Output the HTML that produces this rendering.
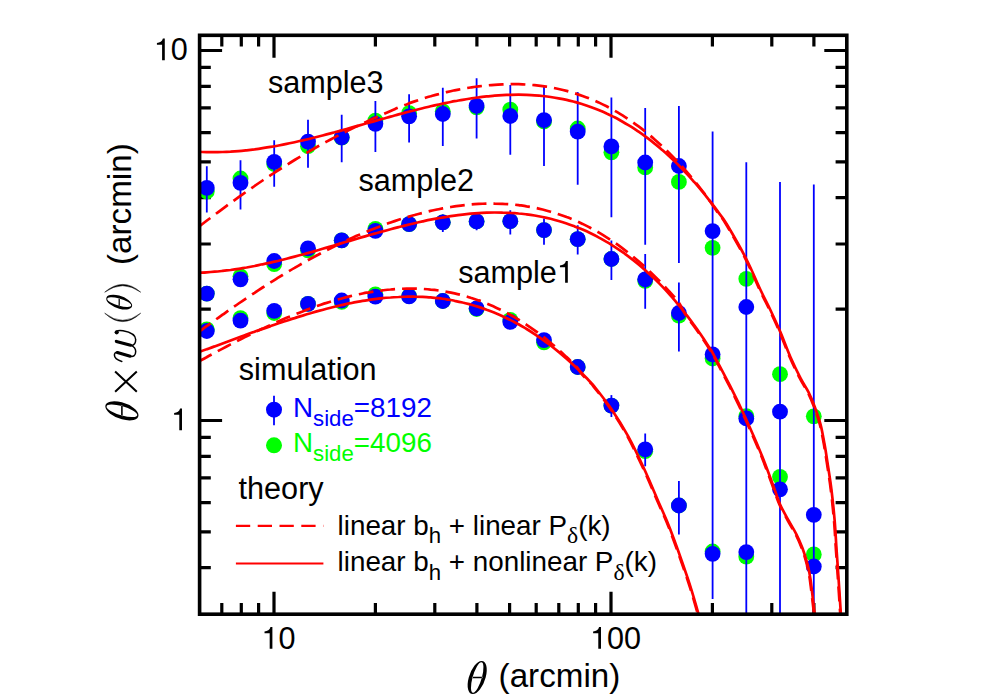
<!DOCTYPE html><html><head><meta charset="utf-8"><style>html,body{margin:0;padding:0;background:#fff}svg{display:block}</style></head><body><svg width="997" height="698" viewBox="0 0 997 698">
<rect width="997" height="698" fill="#fff"/>
<defs><clipPath id="cp"><rect x="199.6" y="35.3" width="647.2" height="578.9"/></clipPath></defs>
<path d="M221.8 35.3v11.2M221.8 614.2v-11.2M241.3 35.3v11.2M241.3 614.2v-11.2M258.6 35.3v11.2M258.6 614.2v-11.2M375.4 35.3v11.2M375.4 614.2v-11.2M434.8 35.3v11.2M434.8 614.2v-11.2M476.9 35.3v11.2M476.9 614.2v-11.2M509.6 35.3v11.2M509.6 614.2v-11.2M536.2 35.3v11.2M536.2 614.2v-11.2M558.8 35.3v11.2M558.8 614.2v-11.2M578.3 35.3v11.2M578.3 614.2v-11.2M595.6 35.3v11.2M595.6 614.2v-11.2M712.4 35.3v11.2M712.4 614.2v-11.2M771.8 35.3v11.2M771.8 614.2v-11.2M813.9 35.3v11.2M813.9 614.2v-11.2M274.0 35.3v22.5M274.0 614.2v-22.5M611.0 35.3v22.5M611.0 614.2v-22.5M199.6 567.7h11.2M846.8 567.7h-11.2M199.6 531.9h11.2M846.8 531.9h-11.2M199.6 502.6h11.2M846.8 502.6h-11.2M199.6 477.8h11.2M846.8 477.8h-11.2M199.6 456.4h11.2M846.8 456.4h-11.2M199.6 437.4h11.2M846.8 437.4h-11.2M199.6 309.1h11.2M846.8 309.1h-11.2M199.6 244.0h11.2M846.8 244.0h-11.2M199.6 197.7h11.2M846.8 197.7h-11.2M199.6 161.9h11.2M846.8 161.9h-11.2M199.6 132.6h11.2M846.8 132.6h-11.2M199.6 107.8h11.2M846.8 107.8h-11.2M199.6 86.4h11.2M846.8 86.4h-11.2M199.6 67.4h11.2M846.8 67.4h-11.2M199.6 420.5h22.5M846.8 420.5h-22.5M199.6 50.5h22.5M846.8 50.5h-22.5" stroke="#000" stroke-width="3.2" fill="none"/>
<g clip-path="url(#cp)">
<circle cx="206.8" cy="329.3" r="7.9" fill="#00ff00"/>
<circle cx="240.5" cy="318.1" r="7.9" fill="#00ff00"/>
<circle cx="274.2" cy="313.0" r="7.9" fill="#00ff00"/>
<circle cx="308.0" cy="303.9" r="7.9" fill="#00ff00"/>
<circle cx="341.7" cy="301.9" r="7.9" fill="#00ff00"/>
<circle cx="375.4" cy="294.4" r="7.9" fill="#00ff00"/>
<circle cx="409.1" cy="296.0" r="7.9" fill="#00ff00"/>
<circle cx="442.8" cy="301.0" r="7.9" fill="#00ff00"/>
<circle cx="476.6" cy="309.0" r="7.9" fill="#00ff00"/>
<circle cx="510.3" cy="319.8" r="7.9" fill="#00ff00"/>
<circle cx="544.0" cy="342.3" r="7.9" fill="#00ff00"/>
<circle cx="577.7" cy="367.0" r="7.9" fill="#00ff00"/>
<circle cx="611.4" cy="405.6" r="7.9" fill="#00ff00"/>
<circle cx="645.2" cy="451.2" r="7.9" fill="#00ff00"/>
<circle cx="678.9" cy="505.5" r="7.9" fill="#00ff00"/>
<circle cx="712.6" cy="551.5" r="7.9" fill="#00ff00"/>
<circle cx="746.3" cy="556.7" r="7.9" fill="#00ff00"/>
<circle cx="206.8" cy="293.6" r="7.9" fill="#00ff00"/>
<circle cx="240.5" cy="276.3" r="7.9" fill="#00ff00"/>
<circle cx="274.2" cy="264.2" r="7.9" fill="#00ff00"/>
<circle cx="308.0" cy="250.3" r="7.9" fill="#00ff00"/>
<circle cx="341.7" cy="240.3" r="7.9" fill="#00ff00"/>
<circle cx="375.4" cy="228.8" r="7.9" fill="#00ff00"/>
<circle cx="409.1" cy="224.2" r="7.9" fill="#00ff00"/>
<circle cx="442.8" cy="222.3" r="7.9" fill="#00ff00"/>
<circle cx="476.6" cy="221.4" r="7.9" fill="#00ff00"/>
<circle cx="510.3" cy="221.2" r="7.9" fill="#00ff00"/>
<circle cx="544.0" cy="230.1" r="7.9" fill="#00ff00"/>
<circle cx="577.7" cy="239.2" r="7.9" fill="#00ff00"/>
<circle cx="611.4" cy="259.0" r="7.9" fill="#00ff00"/>
<circle cx="645.2" cy="280.8" r="7.9" fill="#00ff00"/>
<circle cx="678.9" cy="315.6" r="7.9" fill="#00ff00"/>
<circle cx="712.6" cy="358.5" r="7.9" fill="#00ff00"/>
<circle cx="746.3" cy="416.2" r="7.9" fill="#00ff00"/>
<circle cx="780.0" cy="476.8" r="7.9" fill="#00ff00"/>
<circle cx="813.8" cy="554.4" r="7.9" fill="#00ff00"/>
<circle cx="206.8" cy="191.5" r="7.9" fill="#00ff00"/>
<circle cx="240.5" cy="178.5" r="7.9" fill="#00ff00"/>
<circle cx="274.2" cy="164.0" r="7.9" fill="#00ff00"/>
<circle cx="308.0" cy="146.2" r="7.9" fill="#00ff00"/>
<circle cx="341.7" cy="137.7" r="7.9" fill="#00ff00"/>
<circle cx="375.4" cy="120.7" r="7.9" fill="#00ff00"/>
<circle cx="409.1" cy="113.2" r="7.9" fill="#00ff00"/>
<circle cx="442.8" cy="111.3" r="7.9" fill="#00ff00"/>
<circle cx="476.6" cy="107.3" r="7.9" fill="#00ff00"/>
<circle cx="510.3" cy="109.7" r="7.9" fill="#00ff00"/>
<circle cx="544.0" cy="121.5" r="7.9" fill="#00ff00"/>
<circle cx="577.7" cy="128.5" r="7.9" fill="#00ff00"/>
<circle cx="611.4" cy="152.3" r="7.9" fill="#00ff00"/>
<circle cx="645.2" cy="167.4" r="7.9" fill="#00ff00"/>
<circle cx="678.9" cy="181.9" r="7.9" fill="#00ff00"/>
<circle cx="712.6" cy="247.8" r="7.9" fill="#00ff00"/>
<circle cx="746.3" cy="278.8" r="7.9" fill="#00ff00"/>
<circle cx="780.0" cy="374.2" r="7.9" fill="#00ff00"/>
<circle cx="813.8" cy="416.3" r="7.9" fill="#00ff00"/>
<circle cx="206.8" cy="331.0" r="7.9" fill="#0000ff"/>
<circle cx="240.5" cy="320.6" r="7.9" fill="#0000ff"/>
<circle cx="274.2" cy="310.8" r="7.9" fill="#0000ff"/>
<circle cx="308.0" cy="303.9" r="7.9" fill="#0000ff"/>
<circle cx="341.7" cy="300.5" r="7.9" fill="#0000ff"/>
<circle cx="375.4" cy="296.6" r="7.9" fill="#0000ff"/>
<circle cx="409.1" cy="296.4" r="7.9" fill="#0000ff"/>
<circle cx="442.8" cy="301.0" r="7.9" fill="#0000ff"/>
<circle cx="476.6" cy="308.3" r="7.9" fill="#0000ff"/>
<circle cx="510.3" cy="321.8" r="7.9" fill="#0000ff"/>
<circle cx="544.0" cy="340.1" r="7.9" fill="#0000ff"/>
<circle cx="577.7" cy="367.0" r="7.9" fill="#0000ff"/>
<line x1="611.4" y1="395.1" x2="611.4" y2="417.0" stroke="#0000ff" stroke-width="1.8"/>
<circle cx="611.4" cy="405.6" r="7.9" fill="#0000ff"/>
<line x1="645.2" y1="433.5" x2="645.2" y2="466.3" stroke="#0000ff" stroke-width="1.8"/>
<circle cx="645.2" cy="449.3" r="7.9" fill="#0000ff"/>
<line x1="678.9" y1="481.1" x2="678.9" y2="534.5" stroke="#0000ff" stroke-width="1.8"/>
<circle cx="678.9" cy="505.5" r="7.9" fill="#0000ff"/>
<circle cx="712.6" cy="553.8" r="7.9" fill="#0000ff"/>
<circle cx="746.3" cy="552.1" r="7.9" fill="#0000ff"/>
<circle cx="206.8" cy="293.6" r="7.9" fill="#0000ff"/>
<circle cx="240.5" cy="279.3" r="7.9" fill="#0000ff"/>
<circle cx="274.2" cy="261.0" r="7.9" fill="#0000ff"/>
<circle cx="308.0" cy="248.3" r="7.9" fill="#0000ff"/>
<circle cx="341.7" cy="240.3" r="7.9" fill="#0000ff"/>
<circle cx="375.4" cy="230.8" r="7.9" fill="#0000ff"/>
<circle cx="409.1" cy="224.2" r="7.9" fill="#0000ff"/>
<line x1="442.8" y1="214.5" x2="442.8" y2="232.0" stroke="#0000ff" stroke-width="1.8"/>
<circle cx="442.8" cy="222.3" r="7.9" fill="#0000ff"/>
<line x1="476.6" y1="213.6" x2="476.6" y2="230.3" stroke="#0000ff" stroke-width="1.8"/>
<circle cx="476.6" cy="221.4" r="7.9" fill="#0000ff"/>
<line x1="510.3" y1="210.3" x2="510.3" y2="234.5" stroke="#0000ff" stroke-width="1.8"/>
<circle cx="510.3" cy="221.2" r="7.9" fill="#0000ff"/>
<line x1="544.0" y1="218.6" x2="544.0" y2="244.8" stroke="#0000ff" stroke-width="1.8"/>
<circle cx="544.0" cy="230.1" r="7.9" fill="#0000ff"/>
<line x1="577.7" y1="225.3" x2="577.7" y2="254.6" stroke="#0000ff" stroke-width="1.8"/>
<circle cx="577.7" cy="239.2" r="7.9" fill="#0000ff"/>
<line x1="611.4" y1="240.6" x2="611.4" y2="280.0" stroke="#0000ff" stroke-width="1.8"/>
<circle cx="611.4" cy="259.0" r="7.9" fill="#0000ff"/>
<line x1="645.2" y1="254.0" x2="645.2" y2="308.8" stroke="#0000ff" stroke-width="1.8"/>
<circle cx="645.2" cy="279.3" r="7.9" fill="#0000ff"/>
<line x1="678.9" y1="282.4" x2="678.9" y2="351.5" stroke="#0000ff" stroke-width="1.8"/>
<circle cx="678.9" cy="313.0" r="7.9" fill="#0000ff"/>
<circle cx="712.6" cy="354.4" r="7.9" fill="#0000ff"/>
<circle cx="746.3" cy="418.4" r="7.9" fill="#0000ff"/>
<circle cx="780.0" cy="489.3" r="7.9" fill="#0000ff"/>
<circle cx="813.8" cy="566.5" r="7.9" fill="#0000ff"/>
<line x1="206.8" y1="166.3" x2="206.8" y2="212.4" stroke="#0000ff" stroke-width="1.8"/>
<circle cx="206.8" cy="187.9" r="7.9" fill="#0000ff"/>
<line x1="240.5" y1="160.2" x2="240.5" y2="209.5" stroke="#0000ff" stroke-width="1.8"/>
<circle cx="240.5" cy="182.8" r="7.9" fill="#0000ff"/>
<line x1="274.2" y1="140.2" x2="274.2" y2="186.7" stroke="#0000ff" stroke-width="1.8"/>
<circle cx="274.2" cy="161.8" r="7.9" fill="#0000ff"/>
<line x1="308.0" y1="119.7" x2="308.0" y2="167.7" stroke="#0000ff" stroke-width="1.8"/>
<circle cx="308.0" cy="141.6" r="7.9" fill="#0000ff"/>
<line x1="341.7" y1="114.7" x2="341.7" y2="162.3" stroke="#0000ff" stroke-width="1.8"/>
<circle cx="341.7" cy="137.3" r="7.9" fill="#0000ff"/>
<line x1="375.4" y1="100.9" x2="375.4" y2="152.0" stroke="#0000ff" stroke-width="1.8"/>
<circle cx="375.4" cy="123.8" r="7.9" fill="#0000ff"/>
<line x1="409.1" y1="94.2" x2="409.1" y2="142.6" stroke="#0000ff" stroke-width="1.8"/>
<circle cx="409.1" cy="116.3" r="7.9" fill="#0000ff"/>
<line x1="442.8" y1="87.7" x2="442.8" y2="146.0" stroke="#0000ff" stroke-width="1.8"/>
<circle cx="442.8" cy="114.0" r="7.9" fill="#0000ff"/>
<line x1="476.6" y1="78.3" x2="476.6" y2="138.5" stroke="#0000ff" stroke-width="1.8"/>
<circle cx="476.6" cy="105.8" r="7.9" fill="#0000ff"/>
<line x1="510.3" y1="85.1" x2="510.3" y2="154.7" stroke="#0000ff" stroke-width="1.8"/>
<circle cx="510.3" cy="116.0" r="7.9" fill="#0000ff"/>
<line x1="544.0" y1="84.9" x2="544.0" y2="166.0" stroke="#0000ff" stroke-width="1.8"/>
<circle cx="544.0" cy="120.2" r="7.9" fill="#0000ff"/>
<line x1="577.7" y1="92.1" x2="577.7" y2="184.7" stroke="#0000ff" stroke-width="1.8"/>
<circle cx="577.7" cy="131.7" r="7.9" fill="#0000ff"/>
<line x1="611.4" y1="97.6" x2="611.4" y2="217.2" stroke="#0000ff" stroke-width="1.8"/>
<circle cx="611.4" cy="146.4" r="7.9" fill="#0000ff"/>
<line x1="645.2" y1="108.1" x2="645.2" y2="244.7" stroke="#0000ff" stroke-width="1.8"/>
<circle cx="645.2" cy="162.5" r="7.9" fill="#0000ff"/>
<line x1="678.9" y1="106.0" x2="678.9" y2="263.0" stroke="#0000ff" stroke-width="1.8"/>
<circle cx="678.9" cy="166.0" r="7.9" fill="#0000ff"/>
<line x1="712.6" y1="131.6" x2="712.6" y2="599.0" stroke="#0000ff" stroke-width="1.8"/>
<circle cx="712.6" cy="231.1" r="7.9" fill="#0000ff"/>
<line x1="746.3" y1="162.2" x2="746.3" y2="614.2" stroke="#0000ff" stroke-width="1.8"/>
<circle cx="746.3" cy="307.0" r="7.9" fill="#0000ff"/>
<line x1="780.0" y1="182.1" x2="780.0" y2="614.2" stroke="#0000ff" stroke-width="1.8"/>
<circle cx="780.0" cy="411.7" r="7.9" fill="#0000ff"/>
<line x1="813.8" y1="184.4" x2="813.8" y2="614.2" stroke="#0000ff" stroke-width="1.8"/>
<circle cx="813.8" cy="514.8" r="7.9" fill="#0000ff"/>
<path d="M198.6 361.5C199.9 360.8 203.9 358.6 206.6 357.2C209.3 355.7 211.9 354.3 214.6 352.9C217.3 351.4 219.9 350.0 222.6 348.6C225.3 347.2 227.9 345.8 230.6 344.4C233.3 343.1 235.9 341.7 238.6 340.3C241.3 339.0 243.9 337.6 246.6 336.3C249.3 335.0 251.9 333.7 254.6 332.4C257.3 331.1 259.9 329.8 262.6 328.6C265.3 327.3 267.9 326.1 270.6 324.9C273.3 323.7 275.9 322.5 278.6 321.3C281.3 320.1 283.9 319.0 286.6 317.8C289.3 316.7 291.9 315.6 294.6 314.5C297.3 313.4 299.9 312.4 302.6 311.4C305.3 310.3 307.9 309.3 310.6 308.4C313.3 307.4 315.9 306.4 318.6 305.5C321.3 304.6 323.9 303.7 326.6 302.9C329.3 302.0 331.9 301.2 334.6 300.4C337.3 299.7 339.9 298.9 342.6 298.2C345.3 297.5 347.9 296.8 350.6 296.1C353.3 295.5 355.9 294.9 358.6 294.3C361.3 293.8 363.9 293.2 366.6 292.7C369.3 292.3 371.9 291.8 374.6 291.4C377.3 291.0 379.9 290.6 382.6 290.3C385.3 290.0 387.9 289.7 390.6 289.5C393.3 289.2 395.9 289.1 398.6 288.9C401.3 288.8 403.9 288.7 406.6 288.6C409.3 288.6 411.9 288.6 414.6 288.6C417.3 288.7 419.9 288.8 422.6 288.9C425.3 289.1 427.9 289.3 430.6 289.6C433.3 289.8 435.9 290.1 438.6 290.5C441.3 290.9 443.9 291.3 446.6 291.8C449.3 292.3 451.9 292.8 454.6 293.4C457.3 294.0 459.9 294.6 462.6 295.3C465.3 296.1 467.9 296.8 470.6 297.7C473.3 298.5 475.9 299.4 478.6 300.4C481.3 301.3 483.9 302.3 486.6 303.4C489.3 304.5 491.9 305.7 494.6 306.9C497.3 308.1 499.9 309.4 502.6 310.7C505.3 312.1 507.9 313.5 510.6 315.0C513.3 316.5 515.9 318.0 518.6 319.7C521.3 321.3 523.9 323.0 526.6 324.8C529.3 326.6 531.9 328.4 534.6 330.3C537.3 332.3 539.9 334.3 542.6 336.3C545.3 338.4 547.9 340.6 550.6 342.8C553.3 345.0 555.9 347.3 558.6 349.7C561.3 352.1 563.9 354.6 566.6 357.1C569.3 359.7 572.8 363.2 574.6 365.0C576.4 366.8 576.4 366.6 577.6 368.1C578.8 369.6 579.9 371.8 582.0 374.3C584.1 376.7 588.1 380.6 590.0 382.6C591.9 384.6 590.0 381.9 593.4 386.3C596.8 390.7 604.9 400.6 610.6 409.0C616.3 417.4 621.9 426.2 627.5 436.4C633.1 446.7 639.2 459.6 644.2 470.5C649.2 481.4 653.4 491.7 657.6 501.6C661.9 511.5 664.7 516.7 669.7 529.7C674.7 542.7 682.9 566.0 687.5 579.7C692.1 593.4 695.3 605.5 697.2 611.9C699.1 618.3 698.6 617.2 698.9 618.3" fill="none" stroke="#ff0000" stroke-width="2.7" stroke-dasharray="14.8 7"/>
<path d="M198.6 332.1C199.9 331.1 203.9 328.2 206.6 326.2C209.3 324.3 211.9 322.3 214.6 320.4C217.3 318.5 219.9 316.6 222.6 314.7C225.3 312.8 227.9 310.9 230.6 309.1C233.3 307.2 235.9 305.3 238.6 303.5C241.3 301.7 243.9 299.9 246.6 298.1C249.3 296.3 251.9 294.5 254.6 292.8C257.3 291.0 259.9 289.3 262.6 287.5C265.3 285.8 267.9 284.1 270.6 282.4C273.3 280.8 275.9 279.1 278.6 277.4C281.3 275.8 283.9 274.2 286.6 272.6C289.3 271.0 291.9 269.4 294.6 267.9C297.3 266.3 299.9 264.8 302.6 263.2C305.3 261.7 307.9 260.2 310.6 258.8C313.3 257.3 315.9 255.9 318.6 254.5C321.3 253.0 323.9 251.6 326.6 250.3C329.3 248.9 331.9 247.6 334.6 246.2C337.3 244.9 339.9 243.6 342.6 242.4C345.3 241.1 347.9 239.8 350.6 238.6C353.3 237.4 355.9 236.2 358.6 235.1C361.3 233.9 363.9 232.8 366.6 231.7C369.3 230.6 371.9 229.5 374.6 228.4C377.3 227.4 379.9 226.4 382.6 225.4C385.3 224.4 387.9 223.4 390.6 222.5C393.3 221.6 395.9 220.7 398.6 219.8C401.3 218.9 403.9 218.1 406.6 217.3C409.3 216.5 411.9 215.7 414.6 215.0C417.3 214.2 419.9 213.5 422.6 212.9C425.3 212.2 427.9 211.5 430.6 210.9C433.3 210.3 435.9 209.8 438.6 209.2C441.3 208.7 443.9 208.2 446.6 207.7C449.3 207.2 451.9 206.8 454.6 206.4C457.3 206.0 459.9 205.7 462.6 205.3C465.3 205.0 467.9 204.8 470.6 204.5C473.3 204.3 475.9 204.1 478.6 203.9C481.3 203.8 483.9 203.7 486.6 203.6C489.3 203.6 491.9 203.5 494.6 203.6C497.3 203.6 499.9 203.7 502.6 203.8C505.3 203.9 507.9 204.1 510.6 204.3C513.3 204.5 515.9 204.8 518.6 205.1C521.3 205.5 523.9 205.8 526.6 206.3C529.3 206.7 531.9 207.2 534.6 207.7C537.3 208.3 539.9 208.9 542.6 209.5C545.3 210.2 547.9 210.9 550.6 211.7C553.3 212.5 555.9 213.3 558.6 214.2C561.3 215.1 563.9 216.0 566.6 217.1C569.3 218.1 571.9 219.2 574.6 220.3C577.3 221.5 579.9 222.7 582.6 223.9C585.3 225.2 587.9 226.6 590.6 228.0C593.3 229.4 595.9 230.9 598.6 232.4C601.3 234.0 603.9 235.6 606.6 237.3C609.3 239.0 611.9 240.8 614.6 242.6C617.3 244.5 619.9 246.4 622.6 248.4C625.3 250.4 627.9 252.5 630.6 254.6C633.3 256.8 635.9 259.0 638.6 261.3C641.3 263.6 643.9 266.0 646.6 268.4C649.3 270.9 651.9 273.5 654.6 276.1C657.3 278.7 659.9 281.4 662.6 284.2C665.3 287.0 667.9 289.9 670.6 292.9C673.3 295.9 676.0 298.3 678.6 302.1C681.2 305.8 683.4 311.4 686.0 315.4C688.6 319.4 691.3 322.4 694.0 326.1C696.7 329.8 699.3 333.7 702.0 337.6C704.7 341.6 708.3 347.3 710.0 349.9C711.7 352.5 708.7 347.0 712.0 353.1C715.3 359.2 724.1 375.5 729.6 386.5C735.1 397.5 740.2 408.1 745.3 419.1C750.3 430.1 755.4 441.6 759.9 452.5C764.4 463.4 768.8 475.6 772.0 484.3C775.2 493.0 776.8 498.5 779.4 504.5C782.0 510.5 785.1 515.5 787.8 520.5C790.5 525.5 793.4 529.9 795.8 534.6C798.1 539.3 800.0 543.6 801.9 548.6C803.8 553.6 805.6 559.5 806.9 564.7C808.2 569.9 808.8 571.8 809.9 579.7C811.0 587.6 813.0 605.5 813.8 611.9C814.5 618.3 814.3 617.2 814.4 618.3" fill="none" stroke="#ff0000" stroke-width="2.7" stroke-dasharray="14.8 7"/>
<path d="M198.6 227.0C199.9 226.0 203.9 222.9 206.6 220.8C209.3 218.8 211.9 216.8 214.6 214.8C217.3 212.8 219.9 210.8 222.6 208.8C225.3 206.8 227.9 204.9 230.6 202.9C233.3 201.0 235.9 199.1 238.6 197.2C241.3 195.3 243.9 193.4 246.6 191.5C249.3 189.6 251.9 187.8 254.6 186.0C257.3 184.1 259.9 182.3 262.6 180.5C265.3 178.7 267.9 177.0 270.6 175.2C273.3 173.5 275.9 171.7 278.6 170.0C281.3 168.3 283.9 166.6 286.6 165.0C289.3 163.3 291.9 161.7 294.6 160.0C297.3 158.4 299.9 156.8 302.6 155.2C305.3 153.6 307.9 152.1 310.6 150.6C313.3 149.0 315.9 147.5 318.6 146.0C321.3 144.5 323.9 143.1 326.6 141.6C329.3 140.2 331.9 138.8 334.6 137.4C337.3 136.0 339.9 134.6 342.6 133.3C345.3 132.0 347.9 130.6 350.6 129.3C353.3 128.0 355.9 126.8 358.6 125.5C361.3 124.2 363.9 123.0 366.6 121.8C369.3 120.5 371.9 119.3 374.6 118.1C377.3 116.9 379.9 115.7 382.6 114.5C385.3 113.3 387.9 112.1 390.6 110.9C393.3 109.8 395.9 108.6 398.6 107.5C401.3 106.4 403.9 105.4 406.6 104.4C409.3 103.3 411.9 102.3 414.6 101.4C417.3 100.5 419.9 99.6 422.6 98.7C425.3 97.8 427.9 97.0 430.6 96.3C433.3 95.5 435.9 94.7 438.6 94.1C441.3 93.4 443.9 92.7 446.6 92.1C449.3 91.5 451.9 90.9 454.6 90.3C457.3 89.8 459.9 89.3 462.6 88.8C465.3 88.3 467.9 87.9 470.6 87.5C473.3 87.1 475.9 86.7 478.6 86.4C481.3 86.1 483.9 85.8 486.6 85.5C489.3 85.2 491.9 85.0 494.6 84.8C497.3 84.6 499.9 84.5 502.6 84.4C505.3 84.3 507.9 84.2 510.6 84.2C513.3 84.2 515.9 84.2 518.6 84.2C521.3 84.3 523.9 84.4 526.6 84.6C529.3 84.7 531.9 84.9 534.6 85.2C537.3 85.5 539.9 85.8 542.6 86.1C545.3 86.5 547.9 86.9 550.6 87.4C553.3 87.9 555.9 88.4 558.6 89.0C561.3 89.6 563.9 90.2 566.6 90.9C569.3 91.6 571.9 92.4 574.6 93.2C577.3 94.0 579.9 94.9 582.6 95.9C585.3 96.9 587.9 97.9 590.6 99.0C593.3 100.1 595.9 101.2 598.6 102.4C601.3 103.7 603.9 105.0 606.6 106.3C609.3 107.7 611.9 109.1 614.6 110.7C617.3 112.2 619.9 113.8 622.6 115.4C625.3 117.1 627.9 118.9 630.6 120.7C633.3 122.5 635.9 124.4 638.6 126.4C641.3 128.4 643.9 130.5 646.6 132.6C649.3 134.8 651.9 137.0 654.6 139.4C657.3 141.7 659.9 144.1 662.6 146.6C665.3 149.1 667.9 151.7 670.6 154.4C673.3 157.1 675.9 159.8 678.6 162.7C681.3 165.6 683.9 168.6 686.6 171.6C689.3 174.7 691.9 177.8 694.6 181.1C697.3 184.3 700.3 188.2 702.6 191.2C704.9 194.1 705.9 195.4 708.5 199.0C711.1 202.6 715.1 208.7 718.0 212.9C720.9 217.0 721.3 216.3 725.9 224.0C730.5 231.7 740.1 248.3 745.7 259.3C751.3 270.3 755.7 281.3 759.7 289.8C763.7 298.3 766.4 303.2 769.8 310.3C773.1 317.4 776.5 324.6 779.8 332.4C783.1 340.2 786.4 349.6 789.8 357.3C793.1 365.0 796.9 372.6 799.9 378.5C802.9 384.4 805.6 387.8 807.9 392.5C810.2 397.2 811.9 401.2 813.9 406.6C815.9 412.0 818.2 418.3 819.9 424.6C821.6 430.9 822.6 437.4 823.9 444.3C825.1 451.2 826.2 458.6 827.4 466.3C828.6 474.0 829.8 481.5 830.9 490.5C832.0 499.5 833.1 510.5 834.0 520.5C834.9 530.5 835.3 540.7 836.0 550.6C836.7 560.5 837.3 569.5 838.0 579.7C838.7 589.9 839.7 605.5 840.1 611.9C840.5 618.3 840.4 617.2 840.4 618.3" fill="none" stroke="#ff0000" stroke-width="2.7" stroke-dasharray="14.8 7"/>
<path d="M198.6 352.2C199.9 351.7 203.9 350.2 206.6 349.3C209.3 348.3 211.9 347.3 214.6 346.4C217.3 345.4 219.9 344.4 222.6 343.4C225.3 342.4 227.9 341.5 230.6 340.5C233.3 339.5 235.9 338.5 238.6 337.5C241.3 336.6 243.9 335.6 246.6 334.6C249.3 333.7 251.9 332.7 254.6 331.7C257.3 330.8 259.9 329.8 262.6 328.9C265.3 327.9 267.9 327.0 270.6 326.1C273.3 325.1 275.9 324.2 278.6 323.3C281.3 322.4 283.9 321.5 286.6 320.7C289.3 319.8 291.9 318.9 294.6 318.1C297.3 317.2 299.9 316.4 302.6 315.6C305.3 314.7 307.9 313.9 310.6 313.2C313.3 312.4 315.9 311.6 318.6 310.9C321.3 310.1 323.9 309.4 326.6 308.7C329.3 308.0 331.9 307.4 334.6 306.7C337.3 306.1 339.9 305.5 342.6 304.9C345.3 304.3 347.9 303.7 350.6 303.2C353.3 302.6 355.9 302.1 358.6 301.6C361.3 301.2 363.9 300.7 366.6 300.3C369.3 299.9 371.9 299.5 374.6 299.1C377.3 298.8 379.9 298.5 382.6 298.2C385.3 297.9 387.9 297.7 390.6 297.5C393.3 297.2 395.9 297.1 398.6 297.0C401.3 296.8 403.9 296.7 406.6 296.7C409.3 296.6 411.9 296.6 414.6 296.7C417.3 296.7 419.9 296.8 422.6 296.9C425.3 297.1 427.9 297.2 430.6 297.4C433.3 297.7 435.9 297.9 438.6 298.2C441.3 298.6 443.9 298.9 446.6 299.3C449.3 299.8 451.9 300.2 454.6 300.8C457.3 301.3 459.9 301.8 462.6 302.5C465.3 303.1 467.9 303.8 470.6 304.5C473.3 305.3 475.9 306.1 478.6 306.9C481.3 307.8 483.9 308.7 486.6 309.7C489.3 310.6 491.9 311.7 494.6 312.8C497.3 313.9 499.9 315.0 502.6 316.2C505.3 317.5 507.9 318.7 510.6 320.1C513.3 321.4 515.9 322.9 518.6 324.3C521.3 325.8 523.9 327.4 526.6 329.0C529.3 330.6 531.9 332.3 534.6 334.1C537.3 335.9 539.9 337.7 542.6 339.6C545.3 341.5 547.9 343.5 550.6 345.5C553.3 347.6 555.9 349.7 558.6 351.9C561.3 354.2 563.9 356.4 566.6 358.8C569.3 361.2 571.9 363.6 574.6 366.1C577.3 368.7 579.9 371.3 582.6 374.0C585.3 376.6 588.7 380.3 590.6 382.3C592.5 384.3 590.6 381.6 594.0 386.0C597.4 390.4 605.5 400.3 611.2 408.7C616.9 417.1 622.5 425.9 628.1 436.1C633.7 446.4 639.8 459.3 644.8 470.2C649.8 481.1 654.0 491.4 658.2 501.3C662.5 511.2 665.3 516.4 670.3 529.4C675.3 542.4 683.5 565.7 688.1 579.4C692.7 593.1 695.9 605.2 697.8 611.6C699.7 618.0 699.2 616.9 699.5 618.0" fill="none" stroke="#ff0000" stroke-width="2.7"/>
<path d="M198.6 272.7C199.9 272.6 203.9 272.5 206.6 272.3C209.3 272.1 211.9 271.9 214.6 271.7C217.3 271.5 219.9 271.2 222.6 270.9C225.3 270.6 227.9 270.3 230.6 270.0C233.3 269.6 235.9 269.2 238.6 268.8C241.3 268.4 243.9 267.9 246.6 267.5C249.3 267.0 251.9 266.5 254.6 266.0C257.3 265.4 259.9 264.9 262.6 264.3C265.3 263.8 267.9 263.2 270.6 262.6C273.3 262.0 275.9 261.3 278.6 260.7C281.3 260.0 283.9 259.4 286.6 258.7C289.3 258.0 291.9 257.3 294.6 256.6C297.3 255.9 299.9 255.2 302.6 254.5C305.3 253.7 307.9 253.0 310.6 252.2C313.3 251.5 315.9 250.7 318.6 250.0C321.3 249.2 323.9 248.4 326.6 247.6C329.3 246.9 331.9 246.1 334.6 245.3C337.3 244.5 339.9 243.7 342.6 242.9C345.3 242.2 347.9 241.4 350.6 240.6C353.3 239.8 355.9 239.0 358.6 238.2C361.3 237.5 363.9 236.7 366.6 235.9C369.3 235.1 371.9 234.4 374.6 233.6C377.3 232.9 379.9 232.1 382.6 231.4C385.3 230.6 387.9 229.9 390.6 229.2C393.3 228.5 395.9 227.8 398.6 227.1C401.3 226.4 403.9 225.7 406.6 225.1C409.3 224.4 411.9 223.8 414.6 223.2C417.3 222.6 419.9 222.0 422.6 221.4C425.3 220.8 427.9 220.2 430.6 219.7C433.3 219.2 435.9 218.7 438.6 218.2C441.3 217.7 443.9 217.2 446.6 216.8C449.3 216.4 451.9 216.0 454.6 215.6C457.3 215.2 459.9 214.9 462.6 214.6C465.3 214.3 467.9 214.0 470.6 213.7C473.3 213.5 475.9 213.3 478.6 213.1C481.3 212.9 483.9 212.8 486.6 212.7C489.3 212.6 491.9 212.5 494.6 212.5C497.3 212.5 499.9 212.5 502.6 212.6C505.3 212.6 507.9 212.7 510.6 212.9C513.3 213.0 515.9 213.2 518.6 213.5C521.3 213.7 523.9 214.0 526.6 214.3C529.3 214.7 531.9 215.1 534.6 215.5C537.3 216.0 539.9 216.5 542.6 217.0C545.3 217.6 547.9 218.2 550.6 218.8C553.3 219.5 555.9 220.2 558.6 221.0C561.3 221.8 563.9 222.6 566.6 223.5C569.3 224.4 571.9 225.4 574.6 226.4C577.3 227.4 579.9 228.5 582.6 229.6C585.3 230.8 587.9 232.0 590.6 233.3C593.3 234.6 595.9 235.9 598.6 237.4C601.3 238.8 603.9 240.3 606.6 241.9C609.3 243.4 611.9 245.1 614.6 246.8C617.3 248.5 619.9 250.3 622.6 252.2C625.3 254.1 627.9 256.0 630.6 258.1C633.3 260.1 635.9 262.2 638.6 264.4C641.3 266.7 643.9 269.0 646.6 271.4C649.3 273.8 651.9 276.3 654.6 278.9C657.3 281.5 659.9 284.1 662.6 286.9C665.3 289.7 667.9 292.6 670.6 295.7C673.3 298.7 675.9 301.8 678.6 305.0C681.3 308.3 683.9 311.6 686.6 315.1C689.3 318.5 691.9 322.1 694.6 325.8C697.3 329.5 699.9 333.4 702.6 337.3C705.3 341.3 708.9 347.0 710.6 349.6C712.3 352.2 709.3 346.7 712.6 352.8C715.9 358.9 724.7 375.2 730.2 386.2C735.8 397.2 740.9 407.8 745.9 418.8C750.9 429.8 756.0 441.3 760.5 452.2C765.0 463.1 769.4 475.3 772.6 484.0C775.9 492.7 777.4 498.2 780.0 504.2C782.6 510.2 785.7 515.2 788.4 520.2C791.1 525.2 794.0 529.6 796.4 534.3C798.8 539.0 800.6 543.3 802.5 548.3C804.4 553.3 806.2 559.2 807.5 564.4C808.8 569.6 809.4 571.5 810.5 579.4C811.6 587.3 813.6 605.2 814.4 611.6C815.1 618.0 814.9 616.9 815.0 618.0" fill="none" stroke="#ff0000" stroke-width="2.7"/>
<path d="M198.6 151.7C199.9 151.8 203.9 152.0 206.6 152.1C209.3 152.1 211.9 152.2 214.6 152.2C217.3 152.2 219.9 152.1 222.6 152.0C225.3 151.9 227.9 151.8 230.6 151.7C233.3 151.5 235.9 151.3 238.6 151.1C241.3 150.9 243.9 150.6 246.6 150.3C249.3 150.0 251.9 149.7 254.6 149.4C257.3 149.0 259.9 148.6 262.6 148.2C265.3 147.8 267.9 147.4 270.6 146.9C273.3 146.5 275.9 146.0 278.6 145.5C281.3 145.0 283.9 144.5 286.6 143.9C289.3 143.4 291.9 142.8 294.6 142.2C297.3 141.6 299.9 141.0 302.6 140.4C305.3 139.8 307.9 139.1 310.6 138.5C313.3 137.8 315.9 137.2 318.6 136.5C321.3 135.8 323.9 135.1 326.6 134.4C329.3 133.7 331.9 133.0 334.6 132.3C337.3 131.5 339.9 130.8 342.6 130.1C345.3 129.3 347.9 128.6 350.6 127.8C353.3 127.1 355.9 126.4 358.6 125.6C361.3 124.8 363.9 124.1 366.6 123.3C369.3 122.6 371.9 121.8 374.6 121.1C377.3 120.3 379.9 119.6 382.6 118.8C385.3 118.1 387.9 117.3 390.6 116.6C393.3 115.9 395.9 115.1 398.6 114.4C401.3 113.7 403.9 113.0 406.6 112.3C409.3 111.6 411.9 110.9 414.6 110.2C417.3 109.5 419.9 108.9 422.6 108.2C425.3 107.6 427.9 106.9 430.6 106.3C433.3 105.7 435.9 105.1 438.6 104.5C441.3 103.9 443.9 103.3 446.6 102.8C449.3 102.3 451.9 101.7 454.6 101.2C457.3 100.7 459.9 100.3 462.6 99.8C465.3 99.3 467.9 98.9 470.6 98.5C473.3 98.1 475.9 97.7 478.6 97.4C481.3 97.0 483.9 96.7 486.6 96.4C489.3 96.2 491.9 95.9 494.6 95.7C497.3 95.5 499.9 95.3 502.6 95.1C505.3 95.0 507.9 94.9 510.6 94.8C513.3 94.7 515.9 94.7 518.6 94.7C521.3 94.7 523.9 94.8 526.6 94.9C529.3 95.0 531.9 95.1 534.6 95.3C537.3 95.5 539.9 95.7 542.6 96.0C545.3 96.3 547.9 96.6 550.6 97.0C553.3 97.4 555.9 97.8 558.6 98.3C561.3 98.8 563.9 99.3 566.6 99.9C569.3 100.5 571.9 101.2 574.6 101.9C577.3 102.6 579.9 103.4 582.6 104.2C585.3 105.0 587.9 105.9 590.6 106.9C593.3 107.9 595.9 108.9 598.6 110.0C601.3 111.1 603.9 112.2 606.6 113.5C609.3 114.7 611.9 116.0 614.6 117.3C617.3 118.7 619.9 120.2 622.6 121.7C625.3 123.2 627.9 124.8 630.6 126.4C633.3 128.1 635.9 129.9 638.6 131.7C641.3 133.5 643.9 135.4 646.6 137.4C649.3 139.4 651.9 141.4 654.6 143.6C657.3 145.7 659.9 148.0 662.6 150.3C665.3 152.6 667.9 155.0 670.6 157.5C673.3 160.0 675.9 162.6 678.6 165.2C681.3 167.9 683.9 170.7 686.6 173.6C689.3 176.4 691.9 179.4 694.6 182.4C697.3 185.5 699.9 188.6 702.6 191.9C705.3 195.1 707.9 198.5 710.6 201.9C713.3 205.4 716.0 208.9 718.6 212.6C721.2 216.2 721.9 216.0 726.5 223.7C731.1 231.4 740.7 248.0 746.3 259.0C751.9 270.0 756.3 281.0 760.3 289.5C764.3 298.0 767.0 302.9 770.4 310.0C773.8 317.1 777.1 324.3 780.4 332.1C783.7 339.9 787.0 349.3 790.4 357.0C793.8 364.7 797.5 372.3 800.5 378.2C803.5 384.1 806.2 387.5 808.5 392.2C810.8 396.9 812.5 400.9 814.5 406.3C816.5 411.7 818.8 418.0 820.5 424.3C822.2 430.6 823.2 437.1 824.5 444.0C825.8 450.9 826.8 458.3 828.0 466.0C829.2 473.7 830.4 481.2 831.5 490.2C832.6 499.2 833.8 510.2 834.6 520.2C835.5 530.2 835.9 540.4 836.6 550.3C837.3 560.2 837.9 569.2 838.6 579.4C839.3 589.6 840.3 605.2 840.7 611.6C841.1 618.0 841.0 616.9 841.0 618.0" fill="none" stroke="#ff0000" stroke-width="2.7"/>
</g>
<rect x="199.6" y="35.3" width="647.2" height="578.9" fill="none" stroke="#000" stroke-width="3.6"/>
<line x1="274" y1="395.7" x2="274" y2="425.3" stroke="#0000ff" stroke-width="1.8"/>
<circle cx="274" cy="409.7" r="8" fill="#0000ff"/>
<circle cx="274" cy="445.3" r="8" fill="#00ff00"/>
<line x1="235.9" y1="525.9" x2="323.4" y2="525.9" stroke="#ff0000" stroke-width="2.2" stroke-dasharray="14.3 7.5"/>
<line x1="235.9" y1="563.5" x2="323.4" y2="563.5" stroke="#ff0000" stroke-width="2.2"/>
<text id="t_s3" x="268.0" y="93.4" font-family="Liberation Sans, sans-serif" font-size="30.6" fill="#000" text-anchor="start" >sample3</text>
<text id="t_s2" x="358.4" y="190.6" font-family="Liberation Sans, sans-serif" font-size="30.6" fill="#000" text-anchor="start" >sample2</text>
<text id="t_s1" x="458.2" y="282.8" font-family="Liberation Sans, sans-serif" font-size="30.6" fill="#000" text-anchor="start" >sample</text>
<text id="t_sim" x="238.8" y="380.4" font-family="Liberation Sans, sans-serif" font-size="30.6" fill="#000" text-anchor="start" >simulation</text>
<text id="t_th" x="238.6" y="498.5" font-family="Liberation Sans, sans-serif" font-size="30.6" fill="#000" text-anchor="start" >theory</text>
<text id="t_n1" x="293.0" y="417.3" font-family="Liberation Sans, sans-serif" font-size="27.8" fill="#0000ff" text-anchor="start" >N<tspan font-size="22.2" dy="8.3">side</tspan><tspan dy="-8.3">=8192</tspan></text>
<text id="t_n2" x="293.0" y="452.4" font-family="Liberation Sans, sans-serif" font-size="27.8" fill="#00ff00" text-anchor="start" >N<tspan font-size="22.2" dy="8.3">side</tspan><tspan dy="-8.3">=4096</tspan></text>
<text id="t_l1" x="337.6" y="534.5" font-family="Liberation Sans, sans-serif" font-size="27.8" fill="#000" text-anchor="start" >linear b<tspan font-size="22.2" dy="8.4">h</tspan><tspan dy="-8.4"> + linear P</tspan><tspan font-family="Liberation Serif, serif" font-size="23.7" dy="8.4">δ</tspan><tspan dy="-8.4">(k)</tspan></text>
<text id="t_l2" x="337.6" y="571.3" font-family="Liberation Sans, sans-serif" font-size="27.8" fill="#000" text-anchor="start" >linear b<tspan font-size="22.2" dy="8.4">h</tspan><tspan dy="-8.4"> + nonlinear P</tspan><tspan font-family="Liberation Serif, serif" font-size="23.7" dy="8.4">δ</tspan><tspan dy="-8.4">(k)</tspan></text>
<path d="M272.39 648.80L269.69 648.80L269.69 633.35L264.52 633.35L264.52 631.42C267.52 631.30 269.72 630.29 270.49 627.10L272.39 627.10Z" fill="#000"/>
<text id="t_x10" x="278.4" y="648.8" font-family="Liberation Sans, sans-serif" font-size="30.6" fill="#000" text-anchor="start" >0</text>
<path d="M600.99 648.80L598.29 648.80L598.29 633.35L593.12 633.35L593.12 631.42C596.12 631.30 598.32 630.29 599.09 627.10L600.99 627.10Z" fill="#000"/>
<text id="t_x100" x="607.0" y="648.8" font-family="Liberation Sans, sans-serif" font-size="30.6" fill="#000" text-anchor="start" >00</text>
<path d="M164.79 60.30L162.09 60.30L162.09 44.85L156.92 44.85L156.92 42.92C159.92 42.80 162.12 41.79 162.89 38.60L164.79 38.60Z" fill="#000"/>
<text id="t_y10" x="170.8" y="60.3" font-family="Liberation Sans, sans-serif" font-size="30.6" fill="#000" text-anchor="start" >0</text>
<path d="M181.99 430.30L179.29 430.30L179.29 414.85L174.12 414.85L174.12 412.92C177.12 412.80 179.32 411.79 180.09 408.60L181.99 408.60Z" fill="#000"/>
<path d="M567.81 282.80L565.12 282.80L565.12 267.35L559.95 267.35L559.95 265.42C562.94 265.30 565.15 264.29 565.91 261.10L567.81 261.10Z" fill="#000"/>
<g transform="translate(477.20,677.50) scale(1.000) skewX(-15)"><path d="M-8.45 0A8.45 16.60 0 1 0 8.45 0A8.45 16.60 0 1 0 -8.45 0ZM-4.70 0A4.70 15.35 0 1 1 4.70 0A4.70 15.35 0 1 1 -4.70 0ZM-5.20 -0.8H5.20V0.8H-5.20Z" fill="#000" fill-rule="evenodd"/></g>
<text id="t_xarc" x="498.6" y="687.2" font-family="Liberation Sans, sans-serif" font-size="33.2" fill="#000" text-anchor="start" >(arcmin)</text>
<g transform="translate(131,420) rotate(-90)">
<g transform="translate(9.20,-9.10) scale(1.000) skewX(-15)"><path d="M-8.45 0A8.45 16.60 0 1 0 8.45 0A8.45 16.60 0 1 0 -8.45 0ZM-4.70 0A4.70 15.35 0 1 1 4.70 0A4.70 15.35 0 1 1 -4.70 0ZM-5.20 -0.8H5.20V0.8H-5.20Z" fill="#000" fill-rule="evenodd"/></g>
<path d="M28.2 -15.9L48.6 5.8M28.2 5.8L48.6 -15.9" stroke="#000" stroke-width="2.0" fill="none"/>
<path d="M58.6 -9.2C59.6 -13.2 62 -16.6 64.9 -16.6C66.8 -16.6 67.9 -15.6 67.7 -13.8L63.7 -0.5C63.1 2.4 64.6 4.7 68.4 4.7C71.4 4.7 73.6 2.6 74.6 0L79 -15.5M74.4 0.4C74.6 3.2 76.6 4.7 80.4 4.7C85 4.7 88 -1 89.3 -8C89.8 -11 89.7 -13.3 88.6 -14.4" stroke="#000" stroke-width="1.5" fill="none" stroke-linecap="round" stroke-linejoin="round"/>
<path d="M67.4 -13.6L63.8 -0.8M78.6 -14.6L74.8 -0.4" stroke="#000" stroke-width="3.1" fill="none" stroke-linecap="round"/>
<circle cx="87.7" cy="-14.3" r="2.1" fill="#000"/>
<path d="M106.8 -26.3Q90.0 -8.3 106.8 9.7Q92.6 -8.3 106.8 -26.3Z" fill="#000" stroke="#000" stroke-width="0.5" stroke-linejoin="round"/>
<g transform="translate(117.90,-11.80) scale(0.780) skewX(-15)"><path d="M-8.45 0A8.45 16.60 0 1 0 8.45 0A8.45 16.60 0 1 0 -8.45 0ZM-4.70 0A4.70 15.35 0 1 1 4.70 0A4.70 15.35 0 1 1 -4.70 0ZM-5.20 -0.8H5.20V0.8H-5.20Z" fill="#000" fill-rule="evenodd"/></g>
<path d="M127.8 -26.3Q143.4 -8.3 127.8 9.7Q140.8 -8.3 127.8 -26.3Z" fill="#000" stroke="#000" stroke-width="0.5" stroke-linejoin="round"/>
<text id="t_yarc" x="155.0" y="0" font-family="Liberation Sans, sans-serif" font-size="33.2">(arcmin)</text>
</g>
</svg></body></html>
